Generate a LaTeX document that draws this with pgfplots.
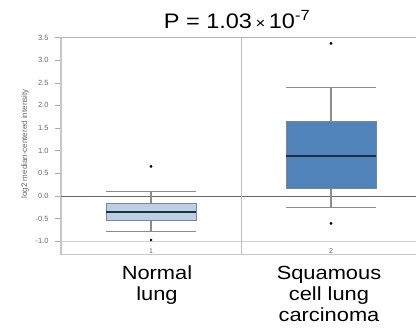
\documentclass[border=0pt]{standalone}
\usepackage{fontspec}
\setmainfont{Liberation Sans}
\newfontfamily\catfont[FakeStretch=1.15]{Liberation Sans}
\newfontfamily\titlefont[FakeStretch=1.12]{Liberation Sans}
\usepackage{pgfplots}
\pgfplotsset{compat=1.18}
\usepgfplotslibrary{statistics}
\definecolor{boxlight}{HTML}{BBD0E6}
\definecolor{boxdark}{HTML}{5083BA}
\definecolor{boxedge}{HTML}{7A8590}
\definecolor{medline}{HTML}{1F3040}
\definecolor{whisk}{HTML}{8C8C8C}
\definecolor{ticktext}{HTML}{666666}
\begin{document}
\begin{tikzpicture}[x=1pt,y=1pt]
\useasboundingbox (0,0) rectangle (416,332);
\begin{axis}[
  at={(61pt,77.3pt)}, anchor=south west,
  scale only axis, width=360pt, height=217.2pt,
  xmin=0.5, xmax=2.5, ymin=-1.3, ymax=3.5,
  boxplot/draw direction=y,
  boxplot/every median/.style={draw=medline, line width=2pt},
  boxplot/every whisker/.style={draw=whisk, line width=1.2pt},
  separate axis lines,
  axis x line*=bottom, axis y line*=left,
  axis line style={draw=gray!45, line width=1.3pt, -},
  ytick={-1,-0.5,0,0.5,1,1.5,2,2.5,3,3.5},
  yticklabel style={xshift=-3pt, /pgf/number format/.cd, fixed, fixed zerofill, precision=1, assume math mode=true},
  ticklabel style={font=\fontsize{7.5}{8}\selectfont, text=ticktext},
  tick align=outside, major tick length=6pt,
  ytick style={draw=gray!70, line width=0.4pt},
  xtick={1,2}, xticklabels={1,2},
  xtick style={draw=none},
  xticklabel style={yshift=16pt, font=\fontsize{7}{8}\selectfont},
  ylabel={log2 median-centered intensity},
  ylabel style={at={(axis description cs:-0.1,0.51)}, anchor=center, font=\fontsize{8}{9}\selectfont, text=ticktext},
  clip=false,
]
\draw[gray!60, line width=0.6pt] (axis cs:0.5,3.5) -- (axis cs:2.5,3.5);
\draw[gray!35, line width=0.6pt] (axis cs:0.5,-1) -- (axis cs:2.5,-1);
\draw[gray!80!black, line width=0.6pt] (axis cs:0.5,0) -- (axis cs:2.5,0);
\draw[gray!50, line width=0.6pt] (axis cs:1.5,-1.3) -- (axis cs:1.5,3.5);
\addplot[
  boxplot prepared={draw position=1, median=-0.36, upper quartile=-0.154, lower quartile=-0.544, upper whisker=0.10, lower whisker=-0.78, box extend=0.5, whisker extend=0.5,
  every box/.style={draw=boxedge, fill=boxlight, line width=0.6pt}},
  mark=*, mark size=1.2pt, mark options={fill=black, draw=black}
] table[row sep=\\, y index=0] {0.65\\ -0.975\\};
\addplot[
  boxplot prepared={draw position=2, median=0.89, upper quartile=1.64, lower quartile=0.16, upper whisker=2.39, lower whisker=-0.25, box extend=0.5, whisker extend=0.5,
  every box/.style={draw=boxedge, fill=boxdark, line width=0.6pt}},
  mark=*, mark size=1.2pt, mark options={fill=black, draw=black}
] table[row sep=\\, y index=0] {3.37\\ -0.61\\};
\end{axis}
\node[anchor=base, inner sep=0pt, font=\titlefont\fontsize{21}{24}\selectfont] at (237,303.7) {P = 1.03\,{\fontsize{15}{15}\selectfont ×}\,10\textsuperscript{-7}};
\node[anchor=north, inner sep=0pt, align=center, font=\catfont\fontsize{19}{21}\selectfont] at (157,66) {Normal\\lung};
\node[anchor=north, inner sep=0pt, align=center, font=\catfont\fontsize{19}{21}\selectfont] at (329,66) {Squamous\\cell lung\\carcinoma};
\end{tikzpicture}
\end{document}
